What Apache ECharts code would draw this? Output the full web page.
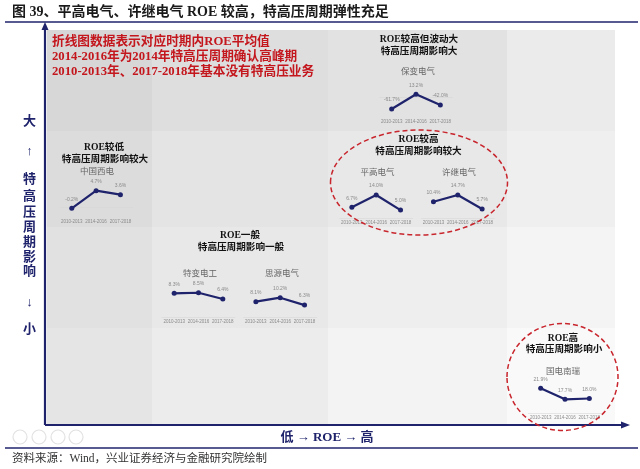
<!DOCTYPE html>
<html>
<head>
<meta charset="utf-8">
<script src="https://cdn.jsdelivr.net/npm/echarts@6/dist/echarts.min.js"></script>
<style>
  html, body { margin: 0; padding: 0; background: #fff; }
  #main { width: 640px; height: 469px; }
</style>
</head>
<body>
<div id="main"></div>
<script>
var myChart = echarts.init(document.getElementById('main'));

// periods on every small line chart
var periods = ['2010-2013', '2014-2016', '2017-2018'];

// average ROE (%) per period
var baobian = [-61.7, 13.2, -42.0];  // 保变电气
var xidian  = [-0.2, 4.7, 3.6];      // 中国西电
var pinggao = [6.7, 14.0, 5.0];      // 平高电气
var xuji    = [10.4, 14.7, 5.7];     // 许继电气
var tebian  = [8.3, 8.5, 6.4];       // 特变电工
var siyuan  = [8.1, 10.2, 6.3];      // 思源电气
var nari    = [21.9, 17.7, 18.0];    // 国电南瑞

var NAVY = '#1f236b';
var SERIF = "'Liberation Serif', 'Noto Sans CJK SC', serif";

// where each small chart sits: left edge, y of its max point, px per 1%, axis line y
var minis = [
    {data: baobian, left: 379.5, top: 94.3, scale: 0.196, axisY: 117},
    {data: xidian,  left: 59.6,  top: 190.7, scale: 3.59, axisY: 217},
    {data: pinggao, left: 339.7, top: 195,   scale: 1.68, axisY: 218},
    {data: xuji,    left: 421.3, top: 195,   scale: 1.556, axisY: 218},
    {data: tebian,  left: 162,   top: 292.7, scale: 3.0,  axisY: 317},
    {data: siyuan,  left: 243.7, top: 297.7, scale: 1.9,  axisY: 317},
    {data: nari,    left: 528.5, top: 388.3, scale: 2.62, axisY: 413}
];

var grids = [], xAxes = [], yAxes = [], series = [];
minis.forEach(function (m, i) {
    var vmax = Math.max.apply(null, m.data);
    grids.push({left: m.left, top: m.top, width: 73, height: m.axisY - m.top});
    xAxes.push({
        type: 'category', gridIndex: i, data: periods, boundaryGap: true,
        axisLine: {lineStyle: {color: '#d6d6d6', width: 0.6}},
        axisTick: {show: false},
        axisLabel: {fontSize: 4.5, color: '#8a8a8a', margin: 2.5, interval: 0, fontFamily: 'Liberation Sans'}
    });
    yAxes.push({
        type: 'value', gridIndex: i, show: false,
        max: vmax, min: vmax - (m.axisY - m.top) / m.scale
    });
    series.push({
        type: 'line', xAxisIndex: i, yAxisIndex: i, data: m.data,
        symbol: 'circle', symbolSize: 5,
        lineStyle: {color: NAVY, width: 2.2},
        itemStyle: {color: NAVY},
        label: {
            show: true, position: 'top', distance: 4,
            fontSize: 5, color: '#8a8a8a', fontFamily: 'Liberation Sans',
            formatter: function (p) { return p.value.toFixed(1) + '%'; }
        },
        animation: false
    });
});

// background quadrant cells
var cellX = [47, 152, 328, 507, 615];
var cellY = [30, 131, 227, 328, 425];
var cellColors = [
    ['#d7d7d7', '#dedede', '#e2e2e2', '#ebebeb'],
    ['#dcdcdc', '#e4e4e4', '#e8e8e8', '#efefef'],
    ['#e1e1e1', '#e8e8e8', '#eeeeee', '#f4f4f4'],
    ['#e5e5e5', '#ececec', '#f3f3f3', '#f9f9f9']
];
var graphic = [];
for (var r = 0; r < 4; r++) {
    for (var c = 0; c < 4; c++) {
        graphic.push({
            type: 'rect', z: -10,
            shape: {x: cellX[c], y: cellY[r], width: cellX[c + 1] - cellX[c], height: cellY[r + 1] - cellY[r]},
            style: {fill: cellColors[r][c]}
        });
    }
}

function txt(x, y, text, size, color, weight, align) {
    graphic.push({
        type: 'text', x: x, y: y, z: 50,
        style: {
            text: text, fill: color, fontSize: size, fontWeight: weight || 'normal',
            fontFamily: SERIF, textAlign: align || 'center', textVerticalAlign: 'middle'
        }
    });
}

// title + rules
txt(12, 12.5, '图 39、平高电气、许继电气 ROE 较高，特高压周期弹性充足', 14, '#1a1a1a', 'bold', 'left');
graphic.push({type: 'line', z: 40, shape: {x1: 5, y1: 22, x2: 638, y2: 22}, style: {stroke: NAVY, lineWidth: 1.6}});
graphic.push({type: 'line', z: 40, shape: {x1: 5, y1: 448, x2: 638, y2: 448}, style: {stroke: NAVY, lineWidth: 1.6}});
txt(12, 458.5, '资料来源：Wind，兴业证券经济与金融研究院绘制', 11.5, '#333', 'normal', 'left');

// red notes
var RED = '#c3161d';
txt(52, 42, '折线图数据表示对应时期内ROE平均值', 12.7, RED, 'bold', 'left');
txt(52, 57, '2014-2016年为2014年特高压周期确认高峰期', 12.7, RED, 'bold', 'left');
txt(52, 72, '2010-2013年、2017-2018年基本没有特高压业务', 12.7, RED, 'bold', 'left');

// quadrant headers and company names
var HS = 9.6;
txt(419, 40, 'ROE较高但波动大', HS, '#111', 'bold');
txt(419, 52, '特高压周期影响大', HS, '#111', 'bold');
txt(418, 72, '保变电气', 8.5, '#666');

txt(104, 147.5, 'ROE较低', HS, '#111', 'bold');
txt(105, 160, '特高压周期影响较大', HS, '#111', 'bold');
txt(97, 171.5, '中国西电', 8.5, '#666');

txt(418.5, 140, 'ROE较高', HS, '#111', 'bold');
txt(418.5, 152, '特高压周期影响较大', HS, '#111', 'bold');
txt(377.5, 172.5, '平高电气', 8.5, '#666');
txt(459, 172.5, '许继电气', 8.5, '#666');

txt(240, 236, 'ROE一般', HS, '#111', 'bold');
txt(241, 247.5, '特高压周期影响一般', HS, '#111', 'bold');
txt(200, 274, '特变电工', 8.5, '#666');
txt(282, 274, '思源电气', 8.5, '#666');

txt(563, 338.5, 'ROE高', HS, '#111', 'bold');
txt(564, 350, '特高压周期影响小', HS, '#111', 'bold');
txt(563, 371.5, '国电南瑞', 8.5, '#666');

// dashed highlight ellipses
graphic.push({type: 'ellipse', z: 45, shape: {cx: 419, cy: 182.5, rx: 88.5, ry: 52.5},
    style: {fill: 'none', stroke: '#c8252d', lineWidth: 1.5, lineDash: [5, 3]}});
graphic.push({type: 'ellipse', z: 45, shape: {cx: 562.5, cy: 377, rx: 55.5, ry: 53.5},
    style: {fill: 'none', stroke: '#c8252d', lineWidth: 1.5, lineDash: [5, 3]}});

// axes arrows
graphic.push({type: 'line', z: 40, shape: {x1: 45, y1: 425, x2: 45, y2: 28}, style: {stroke: NAVY, lineWidth: 2.2}});
graphic.push({type: 'polygon', z: 40, shape: {points: [[45, 22], [41.5, 30], [48.5, 30]]}, style: {fill: NAVY}});
graphic.push({type: 'line', z: 40, shape: {x1: 45, y1: 425, x2: 622, y2: 425}, style: {stroke: NAVY, lineWidth: 2.2}});
graphic.push({type: 'polygon', z: 40, shape: {points: [[630, 425], [621, 421.5], [621, 428.5]]}, style: {fill: NAVY}});

// axis captions
txt(327, 437.5, '低 → ROE → 高', 13, NAVY, 'bold');
var yChars = ['大', '↑', '特', '高', '压', '周', '期', '影', '响', '↓', '小'];
var yPos = [121.5, 151.5, 180, 197, 213, 228, 243, 258, 272, 303, 330];
yChars.forEach(function (ch, i) {
    txt(29.5, yPos[i], ch, 13, NAVY, 'bold');
});

// faded toolbox icons at the bottom left
[20, 39, 58, 76].forEach(function (cx) {
    graphic.push({type: 'circle', z: 30, shape: {cx: cx, cy: 437, r: 7},
        style: {fill: 'none', stroke: '#e2e2e2', lineWidth: 1.2}});
});

option = {
    backgroundColor: '#fff',
    animation: false,
    grid: grids,
    xAxis: xAxes,
    yAxis: yAxes,
    series: series,
    graphic: graphic
};

myChart.setOption(option);
</script>
</body>
</html>
